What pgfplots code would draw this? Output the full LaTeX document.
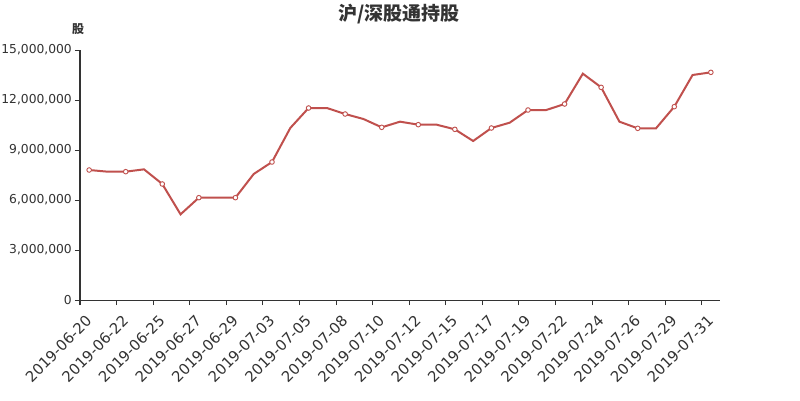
\documentclass[border=0pt]{standalone}
\usepackage{pgfplots}
\pgfplotsset{compat=1.18}
\usepackage{fontspec}
\setmainfont{DejaVu Sans}
\newfontfamily\cjk{Noto Sans CJK SC}
\definecolor{txt}{HTML}{333333}
\definecolor{ln}{HTML}{C0504D}
\begin{document}
\begin{tikzpicture}[x=1pt,y=1pt]
\fill[white] (0,0) rectangle (800,400);
\path[use as bounding box] (0,0) rectangle (800,400);
\begin{axis}[
  at={(80pt,100pt)}, anchor=south west,
  scale only axis, width=640pt, height=250pt,
  xmin=-0.5, xmax=34.5, ymin=0, ymax=15000000,
  axis x line*=bottom, axis y line*=left,
  axis line style={txt, line width=1pt},
  xtick={0,2,...,34},
  xticklabels={2019-06-20,2019-06-22,2019-06-25,2019-06-27,2019-06-29,2019-07-03,2019-07-05,2019-07-08,2019-07-10,2019-07-12,2019-07-15,2019-07-17,2019-07-19,2019-07-22,2019-07-24,2019-07-26,2019-07-29,2019-07-31},
  minor xtick={-0.5,1.5,...,33.5},
  ytick={0,3000000,6000000,9000000,12000000,15000000},
  minor ytick={0,3000000,6000000,9000000,12000000,15000000},
  major tick length=0pt, minor tick length=5pt,
  tick align=outside,
  minor tick style={txt, line width=1pt},
  scaled y ticks=false,
  /pgf/number format/.cd, fixed, 1000 sep={,}, assume math mode=true,
  /pgfplots/.cd,
  yticklabel style={font=\fontsize{12.3}{14}\selectfont, text=txt, inner sep=0pt, xshift=-8pt},
  xticklabel style={font=\fontsize{14.8}{16}\selectfont, text=txt, rotate=45, anchor=north east, inner sep=0pt, xshift=-13pt, yshift=-7pt},
  clip=false,
]
\addplot[ln, line width=2pt, mark=*, mark repeat=2, mark size=2.3pt,
  mark options={fill=white, draw=ln, line width=0.9pt}] table[x=i, y=v] {
i v
0 7800000
1 7700000
2 7700000
3 7840000
4 6960000
5 5140000
6 6140000
7 6140000
8 6140000
9 7560000
10 8280000
11 10320000
12 11520000
13 11520000
14 11160000
15 10860000
16 10360000
17 10700000
18 10520000
19 10520000
20 10240000
21 9540000
22 10320000
23 10640000
24 11400000
25 11400000
26 11760000
27 13580000
28 12760000
29 10700000
30 10300000
31 10300000
32 11600000
33 13500000
34 13660000
};
\end{axis}
\node[font=\cjk\bfseries\fontsize{19}{21}\selectfont, text=txt] at (399,386) {沪/深股通持股};
\node[font=\cjk\bfseries\fontsize{12}{14}\selectfont, text=txt] at (78,371) {股};
\end{tikzpicture}
\end{document}
